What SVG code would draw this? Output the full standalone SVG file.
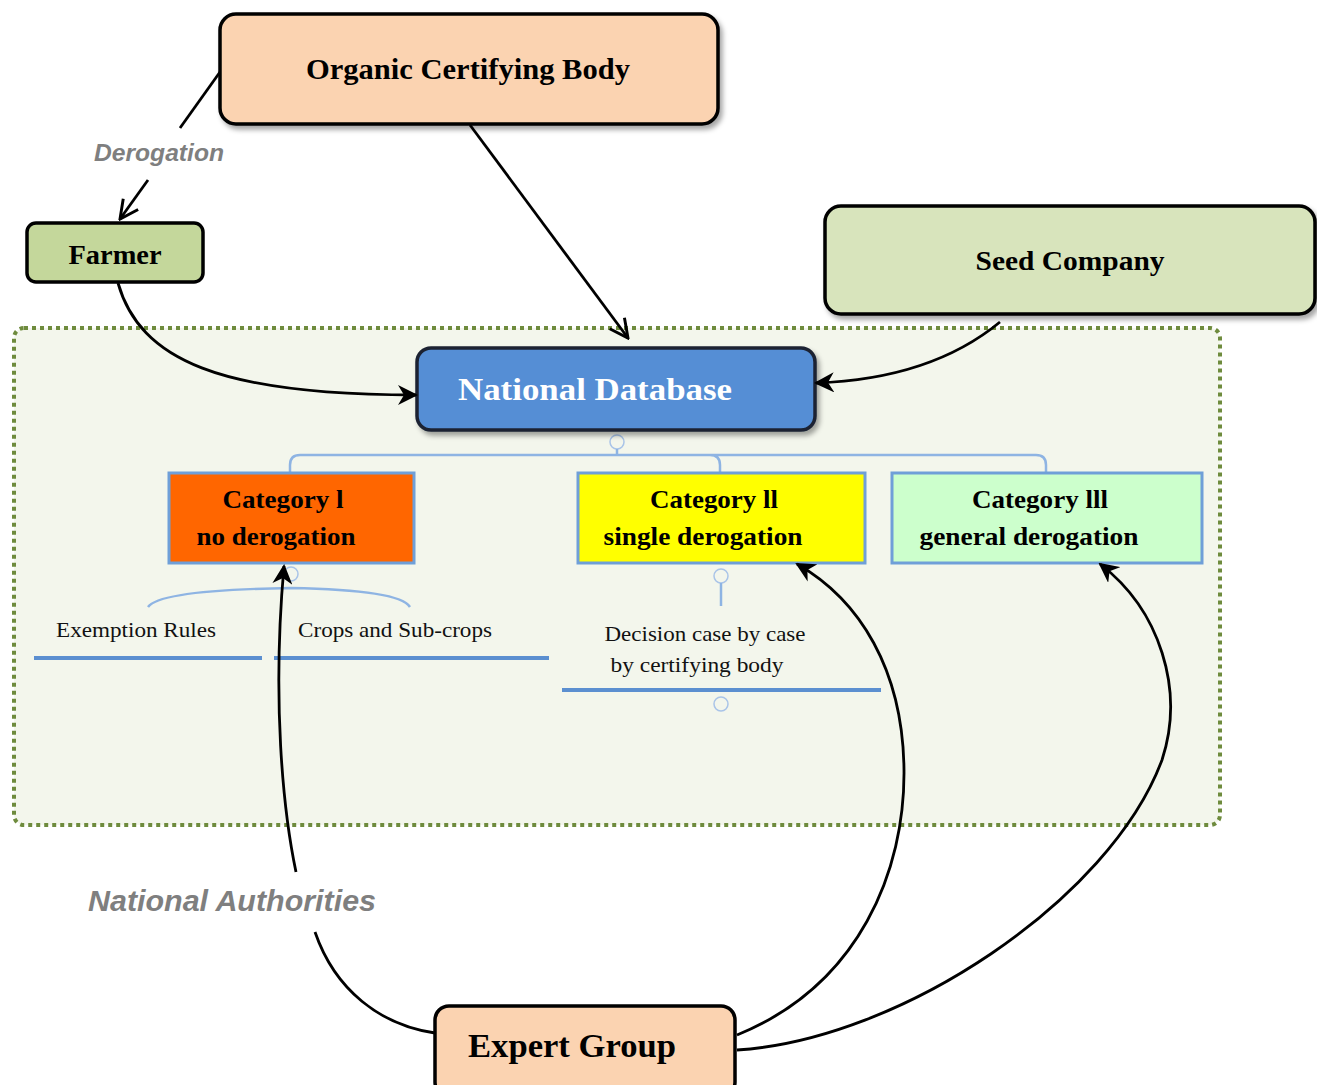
<svg xmlns="http://www.w3.org/2000/svg" width="1317" height="1085" viewBox="0 0 1317 1085">
<defs>
<style>
.node{stroke:#000;stroke-width:3.5}
.t{font-family:"Liberation Serif","Times New Roman",serif;font-weight:bold;fill:#000;text-anchor:middle}
.s{font-family:"Liberation Serif","Times New Roman",serif;fill:#111;text-anchor:middle;font-size:21px}
.lbl{font-family:"Liberation Sans",Arial,sans-serif;font-style:italic;fill:#7f7f7f;text-anchor:middle}
.cat{stroke:#6f9fd8;stroke-width:3}
.tree{fill:none;stroke:#8eb4e3;stroke-width:2.5}
.ul{stroke:#5b8fd0;stroke-width:4}
.con{fill:none;stroke:#000;stroke-width:2.8}
</style>
<filter id="sh" x="-10%" y="-10%" width="130%" height="140%">
<feDropShadow dx="3" dy="4" stdDeviation="2.5" flood-color="#000" flood-opacity="0.35"/>
</filter>
<marker id="fa2" viewBox="0 0 10 10" refX="9" refY="5" markerWidth="20" markerHeight="20" orient="auto" markerUnits="userSpaceOnUse">
<path d="M0,0 L10,5 L0,10 L3,5 z" fill="#000"/>
</marker>
<marker id="oa" viewBox="0 0 12 12" refX="11" refY="6" markerWidth="22" markerHeight="22" orient="auto" markerUnits="userSpaceOnUse">
<path d="M1,1 L11,6 L1,11" fill="none" stroke="#000" stroke-width="1.6"/>
</marker>
</defs>

<g id="container">
<rect x="14" y="328" width="1206" height="497" rx="10" fill="#f3f6ec" stroke="#6e8b3d" stroke-width="4" stroke-dasharray="4 4"/>
</g>

<g id="tree">
<circle cx="617" cy="442" r="7" fill="none" stroke="#a9c4e8" stroke-width="1.5"/>
<path class="tree" d="M617,449 V455 M300,455 H1036 M290,472 V465 Q290,455 300,455 M720,472 V465 Q720,455 710,455 M1036,455 Q1046,455 1046,465 V472"/>
<circle cx="291" cy="574" r="7" fill="none" stroke="#a9c4e8" stroke-width="1.5"/>
<path class="tree" d="M148,607 Q160,590 291,588 Q400,590 410,607" stroke-width="1.8"/>
<circle cx="721" cy="576" r="7" fill="none" stroke="#a9c4e8" stroke-width="1.5"/>
<path class="tree" d="M721,583 V606"/>
<circle cx="721" cy="704" r="7" fill="none" stroke="#a9c4e8" stroke-width="1.5"/>
<line class="ul" x1="34" y1="658" x2="262" y2="658"/>
<line class="ul" x1="274" y1="658" x2="549" y2="658"/>
<line class="ul" x1="562" y1="690" x2="881" y2="690"/>
</g>

<g id="organic-certifying-body">
<rect class="node" x="220" y="14" width="498" height="110" rx="16" fill="#fbd3b1" filter="url(#sh)"/>
<text class="t" x="468" y="79" font-size="30" textLength="324" lengthAdjust="spacingAndGlyphs">Organic  Certifying  Body</text>
</g>

<g id="farmer">
<rect class="node" x="27" y="223" width="176" height="59" rx="9" fill="#c4d79b"/>
<text class="t" x="115" y="264" font-size="27" textLength="93" lengthAdjust="spacingAndGlyphs">Farmer</text>
</g>

<g id="seed-company">
<rect class="node" x="825" y="206" width="490" height="108" rx="16" fill="#d8e4bc" filter="url(#sh)"/>
<text class="t" x="1070" y="270" font-size="28" textLength="189" lengthAdjust="spacingAndGlyphs">Seed Company</text>
</g>

<g id="national-database">
<rect x="417" y="348" width="398" height="82" rx="14" fill="#558ed5" stroke="#1b2433" stroke-width="3.5" filter="url(#sh)"/>
<text class="t" x="595" y="400" font-size="32" style="fill:#fff" textLength="274" lengthAdjust="spacingAndGlyphs">National Database</text>
</g>

<g id="category-1">
<rect class="cat" x="169" y="473" width="245" height="90" fill="#ff6600"/>
<text class="t" x="283" y="508" font-size="26" textLength="121" lengthAdjust="spacingAndGlyphs">Category l</text>
<text class="t" x="276" y="545" font-size="26" textLength="159" lengthAdjust="spacingAndGlyphs">no derogation</text>
</g>

<g id="category-2">
<rect class="cat" x="578" y="473" width="287" height="90" fill="#ffff00"/>
<text class="t" x="714" y="508" font-size="26" textLength="128" lengthAdjust="spacingAndGlyphs">Category ll</text>
<text class="t" x="703" y="545" font-size="26" textLength="199" lengthAdjust="spacingAndGlyphs">single derogation</text>
</g>

<g id="category-3">
<rect class="cat" x="892" y="473" width="310" height="90" fill="#ccffcc"/>
<text class="t" x="1040" y="508" font-size="26" textLength="136" lengthAdjust="spacingAndGlyphs">Category lll</text>
<text class="t" x="1029" y="545" font-size="26" textLength="219" lengthAdjust="spacingAndGlyphs">general derogation</text>
</g>

<g id="exemption-rules">
<text class="s" x="136" y="637" textLength="160" lengthAdjust="spacingAndGlyphs">Exemption Rules</text>
</g>
<g id="crops-and-sub-crops">
<text class="s" x="395" y="637" textLength="194" lengthAdjust="spacingAndGlyphs">Crops and Sub-crops</text>
</g>
<g id="decision-case-by-case">
<text class="s" x="705" y="641" textLength="201" lengthAdjust="spacingAndGlyphs">Decision case by case</text>
<text class="s" x="697" y="672" textLength="173" lengthAdjust="spacingAndGlyphs">by certifying body</text>
</g>

<g id="expert-group">
<rect class="node" x="435" y="1006" width="300" height="90" rx="14" fill="#fbd3b1"/>
<text class="t" x="572" y="1057" font-size="34" textLength="208" lengthAdjust="spacingAndGlyphs">Expert  Group</text>
</g>

<g id="connectors">
<path class="con" d="M220,72 L180,128"/>
<path class="con" d="M148,180 L120,219" marker-end="url(#oa)"/>
<text class="lbl" x="159" y="161" font-size="24" font-weight="bold" textLength="130" lengthAdjust="spacingAndGlyphs">Derogation</text>
<path class="con" d="M470,125 L628,338" marker-end="url(#oa)"/>
<path class="con" d="M118,283 C140,360 220,395 416,395" marker-end="url(#fa2)"/>
<path class="con" d="M1000,322 C960,355 900,380 816,383" marker-end="url(#fa2)"/>
<path class="con" d="M296,872 C283,810 272,700 284,566" marker-end="url(#fa2)"/>
<path class="con" d="M315,932 C335,990 380,1025 435,1033"/>
<text class="lbl" x="232" y="911" font-size="30" font-weight="bold" textLength="288" lengthAdjust="spacingAndGlyphs">National Authorities</text>
<path class="con" d="M737,1035 C860,985 905,870 904,770 C903,670 860,600 797,564" marker-end="url(#fa2)"/>
<path class="con" d="M737,1050 C900,1040 1110,900 1162,760 C1185,690 1160,610 1100,564" marker-end="url(#fa2)"/>
</g>
</svg>
